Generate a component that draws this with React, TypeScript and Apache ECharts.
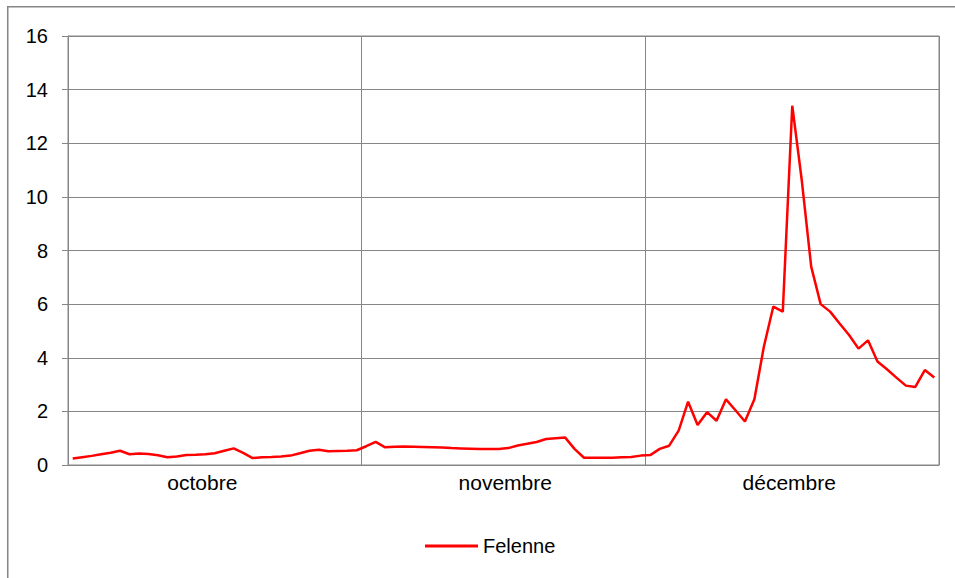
import React, { useEffect, useRef } from "react";
import * as echarts from "echarts";

const monthNames = ["octobre", "novembre", "décembre"];
const monthLengths = [31, 30, 31];
const monthLabelDay = [14, 15, 15]; // day offset inside month where the label sits

const octobre = [
  0.24, 0.29, 0.34, 0.4, 0.46, 0.53, 0.4, 0.43, 0.41, 0.36, 0.29, 0.32, 0.37, 0.38, 0.4, 0.44,
  0.53, 0.62, 0.45, 0.26, 0.29, 0.3, 0.32, 0.35, 0.44, 0.53, 0.57, 0.51, 0.52, 0.53, 0.55,
];
const novembre = [
  0.7, 0.86, 0.66, 0.68, 0.69, 0.68, 0.67, 0.66, 0.65, 0.63, 0.62, 0.61, 0.6, 0.6, 0.6, 0.63,
  0.73, 0.79, 0.86, 0.97, 1.0, 1.03, 0.6, 0.27, 0.27, 0.27, 0.27, 0.29, 0.3, 0.35,
];
const decembre = [
  0.37, 0.6, 0.72, 1.28, 2.36, 1.49, 1.97, 1.65, 2.45, 2.04, 1.62, 2.45, 4.41, 5.91, 5.72, 13.4,
  10.63, 7.4, 6.0, 5.72, 5.28, 4.85, 4.34, 4.65, 3.86, 3.57, 3.26, 2.96, 2.91, 3.54, 3.26,
];
const seriesName = "Felenne";
const yTicks = [0, 2, 4, 6, 8, 10, 12, 14, 16];

export default function App() {
  const ref = useRef<HTMLDivElement>(null);

  useEffect(() => {
    if (!ref.current) return;
    const chart = echarts.init(ref.current, null, { renderer: "svg" });

    const categories: string[] = [];
    const monthOfIndex: number[] = [];
    const monthStarts: number[] = [];
    const labelIndices: number[] = [];
    monthLengths.forEach((len, m) => {
      monthStarts.push(categories.length);
      labelIndices.push(categories.length + monthLabelDay[m]);
      for (let d = 1; d <= len; d++) {
        categories.push(d + " " + monthNames[m]);
        monthOfIndex.push(m);
      }
    });
    const values = [...octobre, ...novembre, ...decembre];

    const font = "'Liberation Sans', Arial, sans-serif";
    const gridColor = "#868686";

    chart.setOption({
      animation: false,
      backgroundColor: "#ffffff",
      graphic: [
        {
          type: "rect",
          shape: { x: 7.75, y: 6.75, width: 1200, height: 1200 },
          style: { fill: "none", stroke: gridColor, lineWidth: 1.5 },
          silent: true,
        },
      ],
      grid: {
        left: 68,
        top: 36,
        right: 16,
        bottom: 113,
        show: true,
        borderColor: gridColor,
        borderWidth: 1,
        backgroundColor: "transparent",
      },
      legend: {
        show: true,
        left: 425,
        top: 536,
        padding: 0,
        itemWidth: 53,
        itemHeight: 14,
        itemGap: 5,
        icon: "path://M0,0 L53,0 L53,3 L0,3 Z",
        textStyle: { fontSize: 20, color: "#000", fontFamily: font },
        data: [seriesName],
      },
      xAxis: {
        type: "category",
        data: categories,
        boundaryGap: true,
        axisLine: { show: true, lineStyle: { color: gridColor, width: 1 } },
        axisTick: { show: false },
        splitLine: {
          show: true,
          interval: (index: number) => monthStarts.includes(index) && index > 0,
          lineStyle: { color: gridColor, width: 1 },
        },
        axisLabel: {
          interval: (index: number) => labelIndices.includes(index),
          formatter: (_v: string, index: number) => monthNames[monthOfIndex[index]],
          fontSize: 21,
          color: "#000",
          fontFamily: font,
          margin: 7,
          padding: [0, 6, 0, 0],
        },
      },
      yAxis: {
        type: "value",
        min: yTicks[0],
        max: yTicks[yTicks.length - 1],
        interval: 2,
        axisLine: { show: true, lineStyle: { color: gridColor, width: 1 } },
        axisTick: { show: true, length: 6, lineStyle: { color: gridColor, width: 1 } },
        splitLine: { show: true, lineStyle: { color: gridColor, width: 1 } },
        axisLabel: {
          fontSize: 20,
          color: "#000",
          fontFamily: font,
          margin: 20,
        },
      },
      series: [
        {
          name: seriesName,
          type: "line",
          data: values,
          symbol: "none",
          lineStyle: { color: "#ff0000", width: 2.5 },
          itemStyle: { color: "#ff0000" },
        },
      ],
    });

    return () => chart.dispose();
  }, []);

  return (
    <div
      ref={ref}
      style={{ position: "absolute", left: 0, top: 0, width: 955, height: 578 }}
    />
  );
}
